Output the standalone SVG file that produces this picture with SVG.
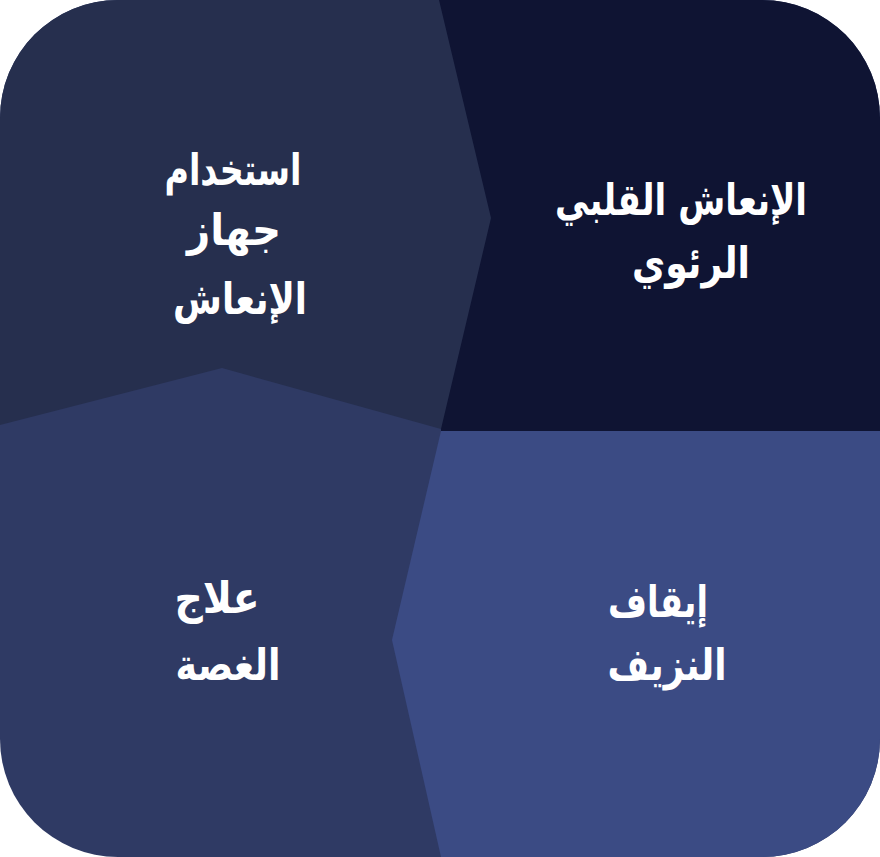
<svg xmlns="http://www.w3.org/2000/svg" width="880" height="857" viewBox="0 0 880 857">
<defs>
<clipPath id="clip"><rect x="0" y="0" width="880" height="857" rx="118" ry="118"/></clipPath>
<style>
.t{font-family:"DejaVu Sans","Noto Sans",sans-serif;font-weight:bold;font-size:44px;fill:#ffffff;text-anchor:middle;direction:rtl}
</style>
</defs>
<rect width="880" height="857" fill="#ffffff"/>
<g clip-path="url(#clip)">
<g id="node-bl">
<rect x="0" y="0" width="880" height="857" fill="#2f3a64"/>
<text class="t" x="217" y="613" textLength="85" lengthAdjust="spacingAndGlyphs">علاج</text>
<text class="t" x="228" y="680" textLength="105" lengthAdjust="spacingAndGlyphs">الغصة</text>
</g>
<g id="node-tr">
<polygon points="436,0 880,0 880,432 441,432" fill="#0f1433"/>
<text class="t" x="681" y="215" textLength="252" lengthAdjust="spacingAndGlyphs">الإنعاش القلبي</text>
<text class="t" x="691" y="278" textLength="118" lengthAdjust="spacingAndGlyphs">الرئوي</text>
</g>
<g id="node-tl">
<polygon points="0,0 439,0 491,218 441,429 222,368 0,425" fill="#262f4e"/>
<text class="t" x="233" y="185" textLength="137" lengthAdjust="spacingAndGlyphs">استخدام</text>
<text class="t" x="234" y="245" textLength="94" lengthAdjust="spacingAndGlyphs">جهاز</text>
<text class="t" x="240" y="314" textLength="134" lengthAdjust="spacingAndGlyphs">الإنعاش</text>
</g>
<g id="node-br">
<polygon points="441,431 880,431 880,857 441,857 392,640" fill="#3b4b84"/>
<text class="t" x="658" y="617" textLength="100" lengthAdjust="spacingAndGlyphs">إيقاف</text>
<text class="t" x="667" y="680" textLength="119" lengthAdjust="spacingAndGlyphs">النزيف</text>
</g>
</g>
<g id="connectors"/>
</svg>
